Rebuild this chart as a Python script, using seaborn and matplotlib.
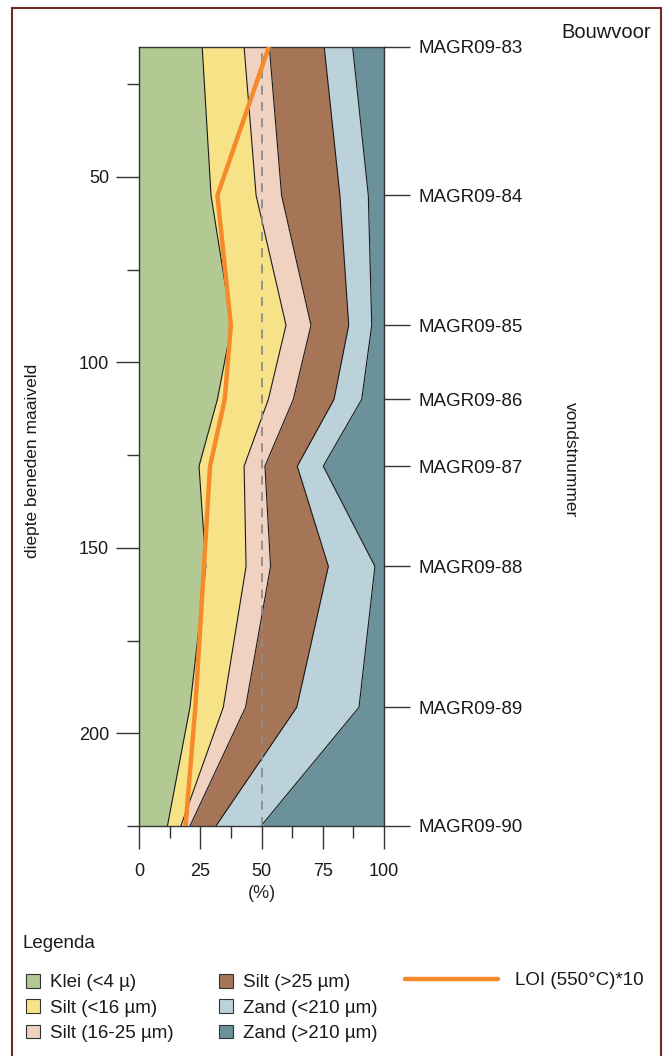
import numpy as np
import matplotlib
matplotlib.use("Agg")
import matplotlib.pyplot as plt
from matplotlib.patches import Patch, Rectangle
from matplotlib.lines import Line2D
from matplotlib.ticker import MultipleLocator
import seaborn as sns

# Sample depths (cm below surface) and sample numbers
depth = [15, 55, 90, 110, 128, 155, 193, 225]
samples = ["MAGR09-83", "MAGR09-84", "MAGR09-85", "MAGR09-86",
           "MAGR09-87", "MAGR09-88", "MAGR09-89", "MAGR09-90"]

# Grain-size fractions (%) per sample
klei = [25.8, 29.4, 37.8, 32.0, 24.5, 27.3, 20.8, 11.6]
silt_lt16 = [17.1, 18.4, 22.2, 20.8, 18.4, 16.4, 13.6, 5.5]
silt_16_25 = [10.3, 10.4, 10.2, 10.2, 8.5, 10.0, 9.1, 3.7]
silt_gt25 = [22.4, 23.8, 15.4, 16.6, 13.2, 23.6, 20.9, 10.6]
zand_lt210 = [11.6, 11.6, 9.4, 11.3, 10.6, 19.0, 25.4, 18.4]
zand_gt210 = [12.8, 6.4, 5.0, 9.1, 24.8, 3.7, 10.2, 50.2]

# Loss on ignition (550 °C) x 10
loi = [53.0, 32.0, 37.5, 35.0, 29.0, 26.5, 23.0, 19.0]

class_labels = ["Klei (<4 µ)", "Silt (<16 µm)", "Silt (16-25 µm)",
                "Silt (>25 µm)", "Zand (<210 µm)", "Zand (>210 µm)"]
class_colors = ["#b3c994", "#f8e288", "#f1d1c0", "#a67558", "#bcd2da", "#6b929a"]

FS = 12.5
FS_TICK = 13
FS_LEG = 13.5

sns.set_theme(style="ticks")
plt.rcParams["font.family"] = ["Liberation Sans", "DejaVu Sans"]
plt.rcParams["text.color"] = "#1a1a1a"

fig = plt.figure(figsize=(6.66, 10.56), dpi=100)
ax = fig.add_axes([139 / 666, 1 - 826 / 1056, 245 / 666, 779 / 1056])

fractions = np.vstack([klei, silt_lt16, silt_16_25, silt_gt25, zand_lt210, zand_gt210])
upper = np.cumsum(fractions, axis=0)
lower = np.vstack([np.zeros(len(depth)), upper[:-1]])

for lo, hi, col in zip(lower, upper, class_colors):
    ax.fill_betweenx(depth, lo, hi, color=col, lw=0, zorder=1)
for hi in upper[:-1]:
    ax.plot(hi, depth, color="#1a1a1a", lw=0.8, zorder=2)

ax.axvline(50, color="#8c8c8c", lw=1.3, ls=(0, (5, 4)), zorder=3)

sns.lineplot(x=loi, y=depth, orient="y", sort=False, color="#f58a2a",
             lw=3.2, ax=ax, zorder=4)

ax.set_xlim(0, 100)
ax.set_ylim(225, 15)
ax.xaxis.set_major_locator(MultipleLocator(25))
ax.xaxis.set_minor_locator(MultipleLocator(12.5))
ax.yaxis.set_major_locator(MultipleLocator(50))
ax.yaxis.set_minor_locator(MultipleLocator(25))
ax.tick_params(which="major", length=16.5, width=1, color="#333333",
               labelsize=FS_TICK, labelcolor="#1a1a1a")
ax.tick_params(which="minor", length=8.5, width=1, color="#333333")
ax.tick_params(axis="x", which="major", pad=10.5)
ax.tick_params(axis="y", which="major", pad=5)
ax.set_xlabel("(%)", fontsize=FS_TICK, labelpad=3)
ax.set_ylabel("")
for sp in ax.spines.values():
    sp.set_color("#333333")
    sp.set_linewidth(1)
    sp.set_visible(True)

ax2 = ax.twinx()
ax2.set_ylim(225, 15)
ax2.set_yticks(depth)
ax2.set_yticklabels(samples)
ax2.tick_params(axis="y", length=18.7, width=1, color="#333333", pad=6,
                labelsize=13.5, labelcolor="#1a1a1a")
for sp in ax2.spines.values():
    sp.set_visible(False)

fig.text(33 / 666, 1 - 461 / 1056, "diepte beneden maaiveld", rotation=90,
         ha="center", va="center", fontsize=FS)
fig.text(570 / 666, 1 - 460 / 1056, "vondstnummer", rotation=-90,
         ha="center", va="center", fontsize=FS)
fig.text(651 / 666, 1 - 33 / 1056, "Bouwvoor", ha="right", va="center",
         fontsize=14.5)

fig.text(22 / 666, 1 - 943 / 1056, "Legenda", ha="left", va="center",
         fontsize=FS_LEG)
handles = [Patch(facecolor=c, edgecolor="#333333", lw=0.8, label=l)
           for c, l in zip(class_colors, class_labels)]
fig.legend(handles=handles, ncol=2, loc="upper left",
           bbox_to_anchor=(26 / 666, 1 - 974 / 1056), frameon=False,
           fontsize=FS_LEG, handlelength=0.75, handleheight=0.75,
           handletextpad=0.53, columnspacing=2.4, labelspacing=0.42,
           borderpad=0, borderaxespad=0)
fig.legend(handles=[Line2D([], [], color="#f58a2a", lw=3.2,
                           label="LOI (550°C)*10")],
           loc="upper left", bbox_to_anchor=(405 / 666, 1 - 972 / 1056),
           frameon=False, fontsize=FS_LEG, handlelength=4.96,
           handletextpad=0.9, borderpad=0, borderaxespad=0)

fig.add_artist(Rectangle((12 / 666, -0.01), 649 / 666, 1.0024,
                         transform=fig.transFigure, fill=False,
                         edgecolor="#6e2b1f", lw=1.5))

fig.savefig("out.png", dpi=100)
